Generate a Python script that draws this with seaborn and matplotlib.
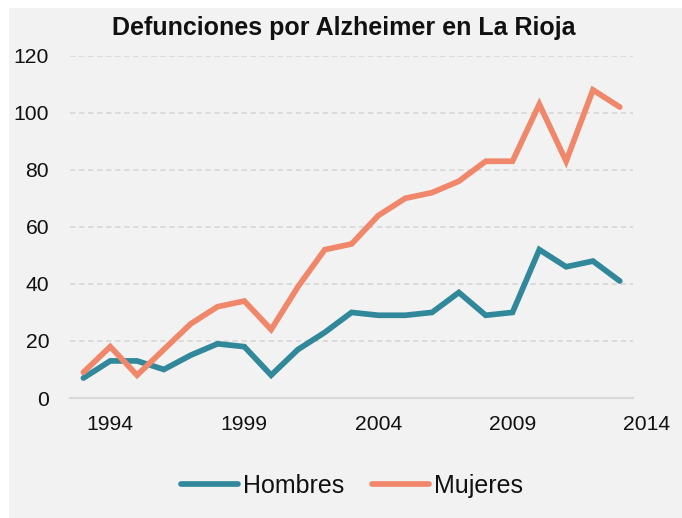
import numpy as np
import pandas as pd
import matplotlib
matplotlib.use('Agg')
import matplotlib.pyplot as plt
import seaborn as sns
from matplotlib.patches import Rectangle

years = list(range(1993, 2014))
hombres = [7, 13, 13, 10, 15, 19, 18, 8, 17, 23, 30, 29, 29, 30, 37, 29, 30, 52, 46, 48, 41]
mujeres = [9, 18, 8, 17, 26, 32, 34, 24, 39, 52, 54, 64, 70, 72, 76, 83, 83, 103, 83, 108, 102]
series_names = ['Hombres', 'Mujeres']
colors = ['#31889b', '#f0866a']
y_ticks = [0, 20, 40, 60, 80, 100, 120]
x_labels = [1994, 1999, 2004, 2009, 2014]

df = pd.DataFrame({
    'year': years * 2,
    'value': hombres + mujeres,
    'sexo': [series_names[0]] * len(years) + [series_names[1]] * len(years),
})

sns.set_style('white')
plt.rcParams['font.family'] = ['Liberation Sans', 'DejaVu Sans']

bg = '#f2f2f2'
grid_c = '#d9d9d9'

fig = plt.figure(figsize=(6.82, 5.18), dpi=100, facecolor='white')
fig.patches.append(Rectangle((9 / 682, 0), 1, 510 / 518, transform=fig.transFigure,
                             facecolor=bg, edgecolor='none', zorder=-10))
ax = fig.add_axes([70 / 682, 120 / 518, 590 / 682, 342.3 / 518])
ax.set_facecolor('none')

x0, x1 = years[0] - 0.5, years[-1] + 0.5

# dashed gridlines only across the plotted span
ax.hlines(y_ticks[1:], x0, x1, colors=grid_c, linestyles=(0, (3, 2)), linewidth=1.3, zorder=0)

sns.lineplot(data=df, x='year', y='value', hue='sexo', palette=colors,
             linewidth=4.1, ax=ax, legend=True, zorder=3)
for ln in ax.get_lines():
    ln.set_solid_capstyle('round')
    ln.set_solid_joinstyle('miter')

ax.set_xlim(x0, x1 + 1)
ax.set_ylim(0, 120)
ax.set_xlabel('')
ax.set_ylabel('')

for s in ['top', 'right', 'left']:
    ax.spines[s].set_visible(False)
ax.spines['bottom'].set_color(grid_c)
ax.spines['bottom'].set_linewidth(1.5)
ax.spines['bottom'].set_bounds(x0, x1)

ax.set_yticks(y_ticks)
ax.tick_params(axis='y', length=0, pad=15, labelsize=15.2, labelcolor='#111111')
ax.set_xticks(x_labels)
ax.set_xticklabels([str(v) for v in x_labels])
ax.set_xticks(np.arange(x0, x1 + 0.01, 1.0), minor=True)
ax.tick_params(axis='x', which='major', length=0, pad=12, labelsize=15.2, labelcolor='#111111')
ax.tick_params(axis='x', which='minor', length=4, width=1.3, color=grid_c, direction='out')

fig.text(344 / 682, 1 - 28 / 518, 'Defunciones por Alzheimer en La Rioja',
         ha='center', va='center', fontsize=18, fontweight='bold', color='#111111')

handles, labels = ax.get_legend_handles_labels()
ax.legend_.remove()
for h in handles:
    h.set_linewidth(4.1)
    h.set_solid_capstyle('round')
leg = fig.legend(handles, labels, loc='center', bbox_to_anchor=(352 / 682, 1 - 486 / 518),
                 ncol=2, frameon=False, fontsize=18, handlelength=2.3, handletextpad=0.2,
                 columnspacing=1.1)
for t in leg.get_texts():
    t.set_color('#111111')

fig.savefig('out.png', dpi=100, facecolor=fig.get_facecolor())
